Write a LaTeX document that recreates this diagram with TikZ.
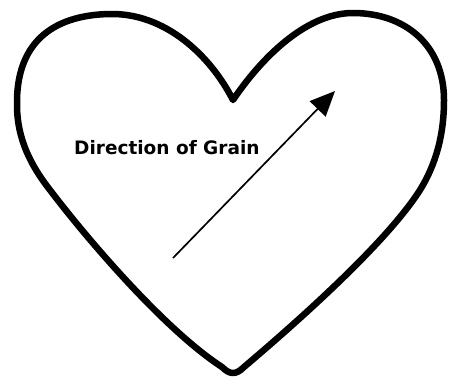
\documentclass[tikz,border=0pt]{standalone}
\usepackage{fontspec}
\setmainfont{DejaVu Sans}
\usetikzlibrary{arrows.meta}
\tikzset{
  heartline/.style={line width=6.5pt, line join=round, line cap=round},
  grainarrow/.style={line width=1.7pt, -{Triangle[length=25pt,width=22pt]}},
  labeltext/.style={font=\bfseries\fontsize{18.5}{20}\selectfont, inner sep=0pt}
}
\begin{document}
\begin{tikzpicture}[x=1pt,y=-1pt]
\useasboundingbox (0,0) rectangle (449,378);
\coordinate (cleft) at (233,100);
\coordinate (bottom) at (233,373);
\draw[heartline] (cleft)
  .. controls (210,55) and (165,13) .. (110,14)
  .. controls (50,15) and (16,45) .. (17,105)
  .. controls (17,140) and (32,167) .. (50,190)
  .. controls (88,240) and (165,330) .. (222,367)
  .. controls (230,375) and (236,375) .. (244,367)
  .. controls (290,328) and (385,245) .. (420,190)
  .. controls (436,164) and (444,135) .. (444,100)
  .. controls (444,45) and (405,13) .. (353,13)
  .. controls (305,13) and (260,60) .. (cleft) -- cycle;
\coordinate (start) at (173,258);
\coordinate (tip) at (335,91);
\draw[grainarrow] (start) -- (tip);
\node[labeltext, anchor=west] (lbl) at (74,148) {Direction of Grain};
\end{tikzpicture}
\end{document}
